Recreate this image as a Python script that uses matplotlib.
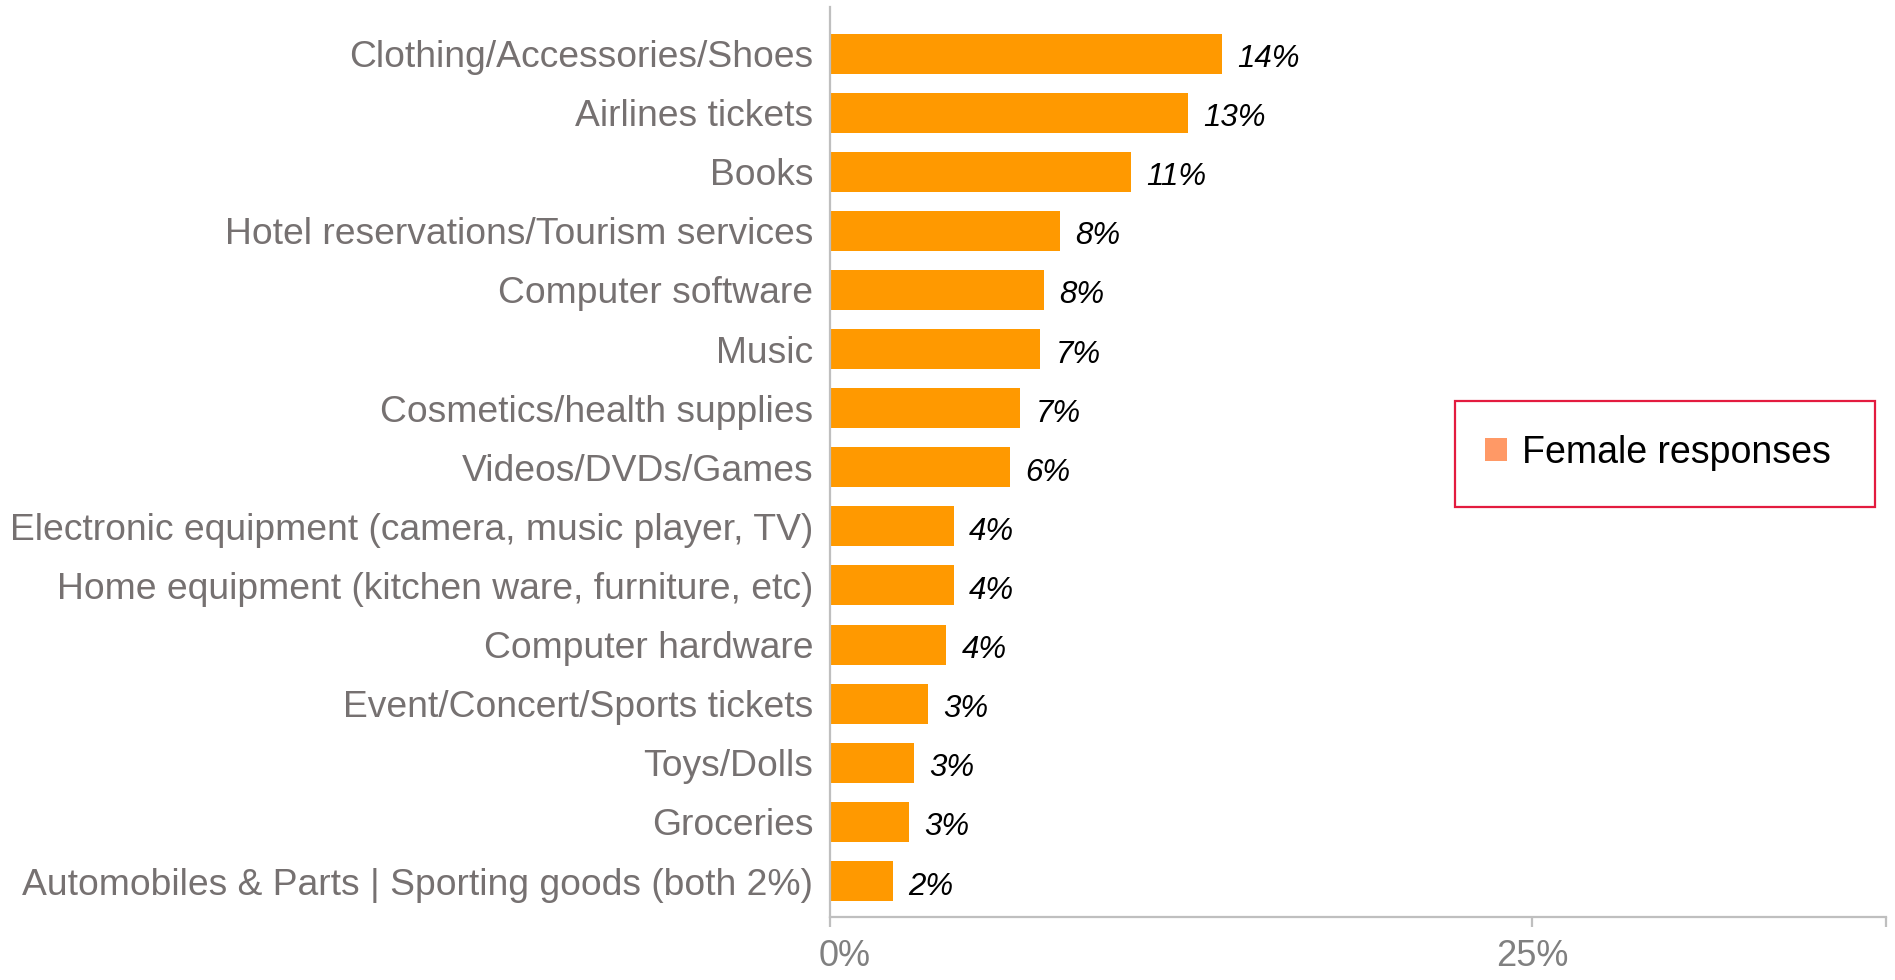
import matplotlib
matplotlib.use("Agg")
import matplotlib.pyplot as plt
from matplotlib.patches import Patch, Rectangle
from matplotlib.transforms import ScaledTranslation

# Share of female respondents buying each product category online (%)
categories = [
    "Clothing/Accessories/Shoes",
    "Airlines tickets",
    "Books",
    "Hotel reservations/Tourism services",
    "Computer software",
    "Music",
    "Cosmetics/health supplies",
    "Videos/DVDs/Games",
    "Electronic equipment (camera, music player, TV)",
    "Home equipment (kitchen ware, furniture, etc)",
    "Computer hardware",
    "Event/Concert/Sports tickets",
    "Toys/Dolls",
    "Groceries",
    "Automobiles & Parts | Sporting goods (both 2%)",
]
female_share = [13.94, 12.76, 10.70, 8.20, 7.61, 7.49, 6.78, 6.41,
                4.40, 4.40, 4.14, 3.49, 3.00, 2.82, 2.25]
x_ticks = [0, 25]
x_tick_labels = ["0%", "25%"]
series_name = "Female responses"

BAR_COLOR = "#FF9900"
LEGEND_SWATCH = "#FF9966"
LABEL_GRAY = "#767171"
AXIS_GRAY = "#BFBFBF"
FONT = "Liberation Sans"

W, H = 1895, 980
fig = plt.figure(figsize=(W / 100, H / 100), dpi=100)
ax = fig.add_axes([830 / W, (H - 917) / H, (1886 - 830) / W, (917 - 7) / H])

ypos = list(range(len(categories)))
ax.barh(ypos, female_share, height=0.677, color=BAR_COLOR, zorder=2)

x_max = 37.6
ax.set_xlim(0, x_max)
ax.set_ylim(14.609, -0.787)

# value labels, italic, just past each bar end
for y, v in zip(ypos, female_share):
    ax.annotate(f"{round(v)}%", xy=(v, y), xytext=(11, -4),
                textcoords="offset points", va="center", ha="left",
                fontsize=22.5, fontstyle="italic", family=FONT, color="black")

ax.set_yticks(ypos)
ax.set_yticklabels(categories, fontsize=26.8, family=FONT, color=LABEL_GRAY)
ax.tick_params(axis="y", length=0, pad=12)

ax.set_xticks(x_ticks + [x_max])
ax.set_xticklabels(x_tick_labels + [""], fontsize=26, family=FONT,
                   color="#808080")
ax.tick_params(axis="x", direction="out", length=7.5, width=1.6,
               color=AXIS_GRAY, pad=8.5)
# nudge the "0%" label a little to the right of the axis corner
first = ax.get_xticklabels()[0]
first.set_transform(first.get_transform()
                    + ScaledTranslation(0.15, 0, fig.dpi_scale_trans))

for side in ("top", "right"):
    ax.spines[side].set_visible(False)
for side in ("left", "bottom"):
    ax.spines[side].set_color(AXIS_GRAY)
    ax.spines[side].set_linewidth(1.6)

# legend entry with its own outlined box
handle = Patch(facecolor=LEGEND_SWATCH, edgecolor="none")
fig.legend([handle], [series_name], loc="center left",
           bbox_to_anchor=(1485 / W, 1 - 453 / H),
           prop={"family": FONT, "size": 27},
           handlelength=0.58, handleheight=0.58, handletextpad=0.42,
           borderpad=0, borderaxespad=0, frameon=False)
fig.patches.append(Rectangle((1455 / W, (H - 507) / H), 420 / W, 106 / H,
                             transform=fig.transFigure, fill=False,
                             edgecolor="#E31B3F", linewidth=1.6))

fig.savefig("out.png", dpi=100, facecolor="white")
